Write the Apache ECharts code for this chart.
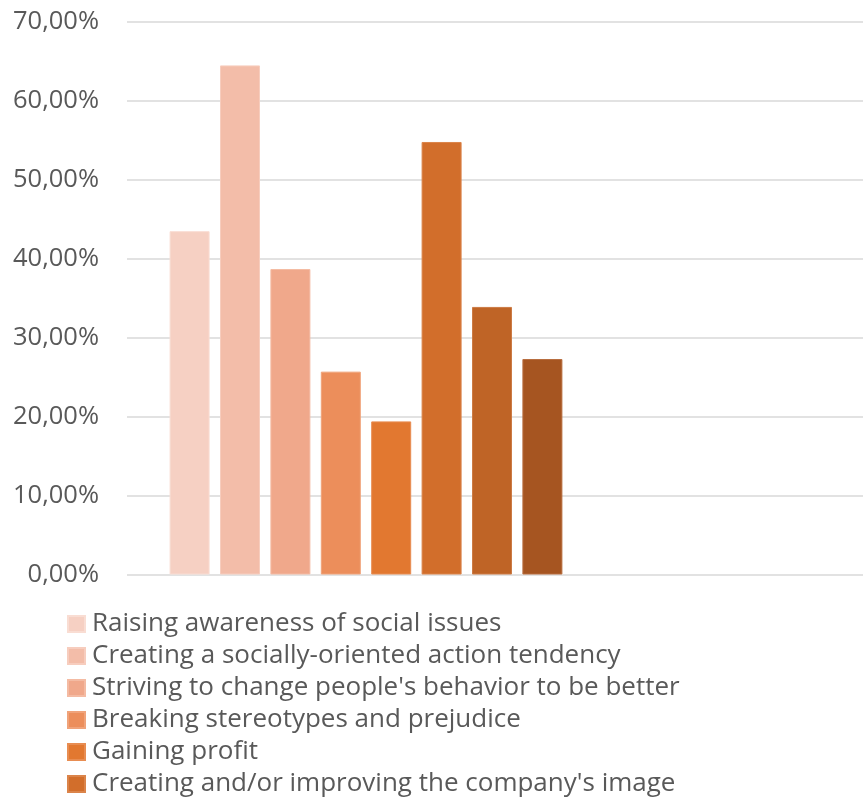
<!DOCTYPE html>
<html>
<head>
<meta charset="utf-8">
<script src="https://cdn.jsdelivr.net/npm/echarts@6/dist/echarts.min.js"></script>
<style>
  html, body { margin: 0; padding: 0; background: #ffffff; }
  #chart { width: 863px; height: 800px; }
</style>
</head>
<body>
<div id="chart"></div>
<script>
// Motives behind socially-oriented campaigns (share of respondents, %)
const seriesNames = [
  "Raising awareness of social issues",
  "Creating a socially-oriented action tendency",
  "Striving to change people's behavior to be better",
  "Breaking stereotypes and prejudice",
  "Gaining profit",
  "Creating and/or improving the company's image",
  "Other motive 1",
  "Other motive 2"
];
const seriesValues = [43.5, 64.5, 38.7, 25.7, 19.4, 54.8, 33.9, 27.3];
const seriesColors = ["#F6D0C3", "#F3BDA9", "#F0A88B", "#EC8E5B", "#E27830", "#D26E2B", "#BF6426", "#A65521"];
const borderColors = ["#F9DDD3", "#F7CDBE", "#F4BBA3", "#F0A37A", "#E88D52", "#DB844A", "#CC7B45", "#B76D3F"];
const legendNames = seriesNames.slice(0, 6);
const yTicks = { min: 0, max: 70, interval: 10 };

const fontFamily = "'Open Sans', 'Noto Sans', sans-serif";
const textColor = "#595959";
const gridColor = "#D9D9D9";

function pct(v) {
  return v.toFixed(2).replace(".", ",") + "%";
}

const chart = echarts.init(document.getElementById("chart"), null, { renderer: "canvas" });

const option = {
  animation: false,
  backgroundColor: "#ffffff",
  grid: [
    { left: 127, width: 736, top: 22, height: 552.5 },
    { left: 127, width: 478, top: 22, height: 552.5 }
  ],
  xAxis: [
    { gridIndex: 0, type: "category", data: [""], show: false },
    { gridIndex: 1, type: "category", data: [""], show: false }
  ],
  yAxis: [
    {
      gridIndex: 0,
      type: "value",
      min: yTicks.min, max: yTicks.max, interval: yTicks.interval,
      axisLine: { show: false },
      axisTick: { show: false },
      axisLabel: {
        margin: 28,
        color: textColor,
        fontFamily: fontFamily,
        fontSize: 25.5,
        formatter: pct
      },
      splitLine: { lineStyle: { color: gridColor, width: 1.6 } }
    },
    {
      gridIndex: 1,
      type: "value",
      min: yTicks.min, max: yTicks.max, interval: yTicks.interval,
      show: false,
      splitLine: { show: false }
    }
  ],
  legend: {
    data: legendNames,
    orient: "vertical",
    left: 62,
    top: 603,
    height: 400,
    itemWidth: 17,
    itemHeight: 16,
    itemGap: 0,
    icon: "rect",
    textStyle: {
      color: textColor,
      fontFamily: fontFamily,
      fontSize: 26,
      lineHeight: 32,
      padding: [0, 0, 0, 2]
    }
  },
  series: seriesNames.map((name, i) => ({
    name: name,
    type: "bar",
    xAxisIndex: 1,
    yAxisIndex: 1,
    barWidth: 40,
    barGap: "26%",
    data: [seriesValues[i]],
    itemStyle: {
      color: seriesColors[i],
      borderColor: borderColors[i],
      borderWidth: 1
    }
  }))
};

chart.setOption(option);
</script>
</body>
</html>
